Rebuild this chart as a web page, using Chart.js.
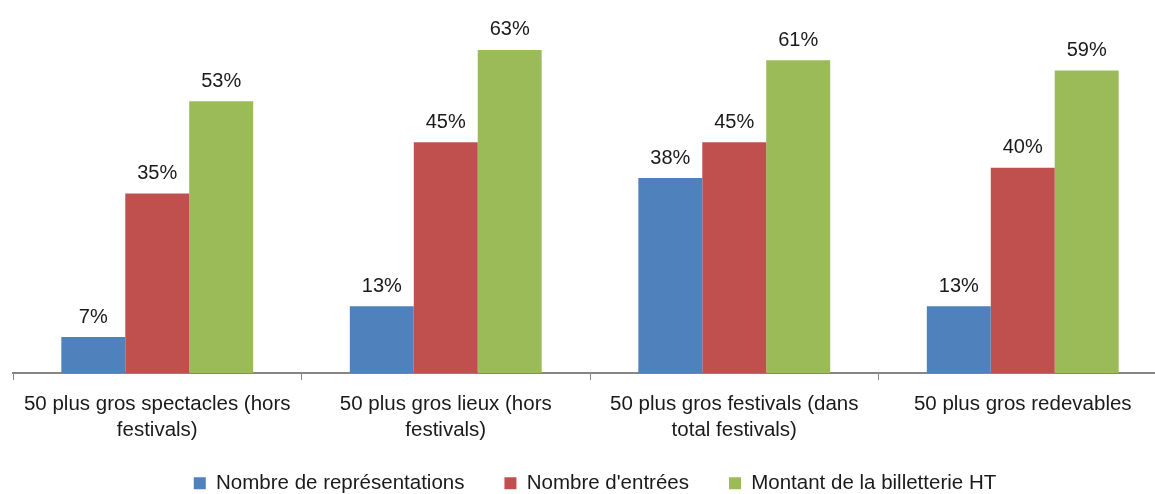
<!DOCTYPE html>
<html>
<head>
<meta charset="utf-8">
<script src="https://cdn.jsdelivr.net/npm/chart.js@4/dist/chart.umd.min.js"></script>
<style>
  html, body { margin: 0; padding: 0; background: #fff; overflow: hidden; }
  #wrap { width: 1170px; height: 494px; }
</style>
</head>
<body>
<div id="wrap"><canvas id="chart1"></canvas></div>
<script>
var categories = [
    ['50 plus gros spectacles (hors', 'festivals)'],
    ['50 plus gros lieux (hors', 'festivals)'],
    ['50 plus gros festivals (dans', 'total festivals)'],
    '50 plus gros redevables'
];
var representations = [7, 13, 38, 13];
var entrees = [35, 45, 45, 40];
var billetterie = [53, 63, 61, 59];

var FONT = '"Liberation Sans Narrow", "Arial Narrow", "Liberation Sans", Arial, sans-serif';

// percentage labels above each bar
var barLabels = {
    id: 'barLabels',
    afterDatasetsDraw: function(chart) {
        var ctx = chart.ctx;
        ctx.save();
        ctx.font = '20px ' + FONT;
        ctx.fillStyle = '#1a1a1a';
        ctx.textAlign = 'center';
        ctx.textBaseline = 'bottom';
        chart.data.datasets.forEach(function(ds, i) {
            chart.getDatasetMeta(i).data.forEach(function(bar, j) {
                ctx.fillText(ds.data[j] + '%', bar.x, bar.y - 10);
            });
        });
        ctx.restore();
    }
};

// the legend needs wide gaps between items but sits close under the axis labels:
// give it a smaller box and draw its content shifted up
var legendFix = {
    id: 'legendFix',
    beforeLayout: function(chart) {
        var lg = chart.legend;
        if (!lg || lg._fixed) return;
        var fit = lg.fit, drawInner = lg._draw;
        lg.fit = function() { fit.call(this); this.height = 50; };
        lg._draw = function() {
            this.ctx.save();
            this.ctx.translate(5, -11);
            drawInner.apply(this, arguments);
            this.ctx.restore();
        };
        lg._fixed = true;
    }
};

var ctx1 = document.getElementById('chart1').getContext('2d');
var chart1 = new Chart(ctx1, {
    type: 'bar',
    data: {
        labels: categories,
        datasets: [{
            label: 'Nombre de représentations',
            data: representations,
            backgroundColor: '#4F81BD'
        }, {
            label: "Nombre d'entrées",
            data: entrees,
            backgroundColor: '#C0504D'
        }, {
            label: 'Montant de la billetterie HT',
            data: billetterie,
            backgroundColor: '#9BBB59'
        }]
    },
    options: {
        responsive: true,
        maintainAspectRatio: false,
        animation: false,
        layout: { padding: { left: 13, right: 3, top: 14, bottom: 0 } },
        datasets: { bar: { categoryPercentage: 0.665, barPercentage: 1 } },
        plugins: {
            legend: {
                position: 'bottom',
                labels: {
                    font: { family: FONT, size: 20.5 },
                    color: '#1a1a1a',
                    boxWidth: 12,
                    boxHeight: 12,
                    padding: 40
                }
            },
            tooltip: { enabled: false }
        },
        scales: {
            x: {
                afterFit: function(scale) { scale.height = 71; },
                grid: {
                    display: true,
                    drawOnChartArea: false,
                    drawTicks: true,
                    tickLength: 7,
                    color: '#868686',
                    offset: true
                },
                border: { display: true, color: '#868686', width: 2 },
                ticks: {
                    font: { family: FONT, size: 20.5, lineHeight: 1.27 },
                    color: '#1a1a1a',
                    padding: 11,
                    maxRotation: 0
                }
            },
            y: {
                display: false,
                min: 0,
                max: 70
            }
        }
    },
    plugins: [barLabels, legendFix]
});
</script>
</body>
</html>
